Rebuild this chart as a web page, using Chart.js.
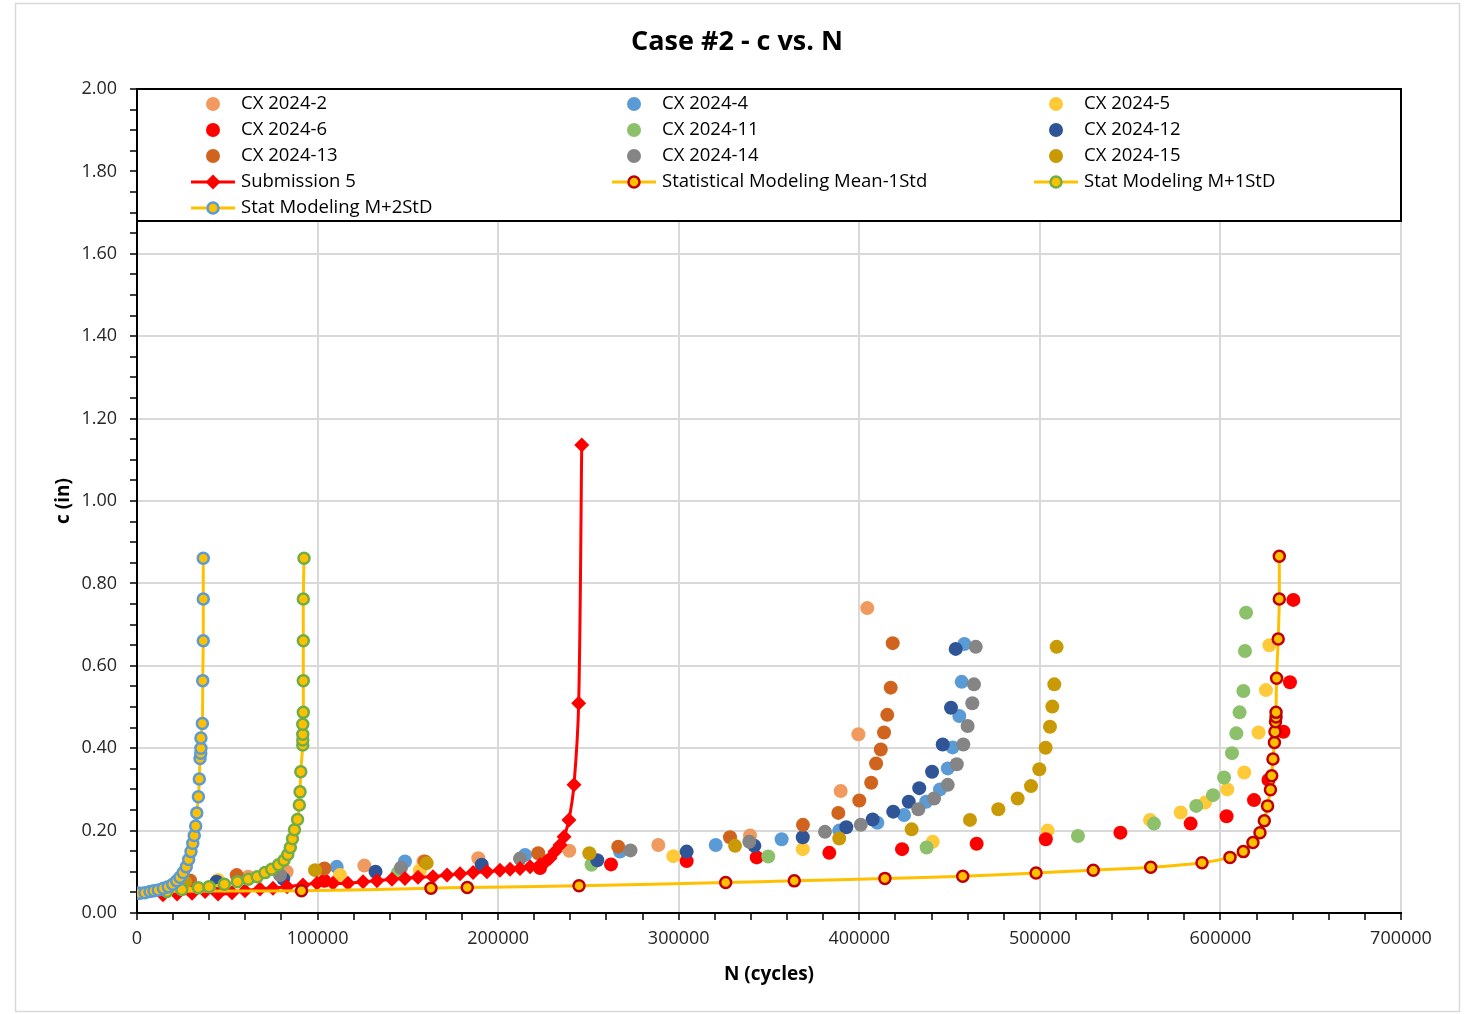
<!DOCTYPE html>
<html>
<head>
<meta charset="utf-8">
<title>Case #2 - c vs. N</title>
<script src="https://cdn.jsdelivr.net/npm/chart.js@4.4.1/dist/chart.umd.min.js"></script>
<style>
  html, body { margin: 0; padding: 0; background: #fff; }
  canvas { display: block; }
</style>
</head>
<body>
<canvas id="chart" width="1468" height="1014"></canvas>
<script>
// values: N in cycles, c in inches
const cx2N = [61600, 82900, 125900, 158600, 189000, 239400, 288700, 339500, 389700, 399500, 404400];
const cx2C = [0.088, 0.100, 0.115, 0.125, 0.133, 0.151, 0.165, 0.188, 0.296, 0.434, 0.740];

const cx4N = [110600, 148400, 214900, 267500, 320500, 357000, 388900, 410000, 424800, 437000, 444700, 449000, 451700, 455400, 456700, 458200];
const cx4C = [0.112, 0.125, 0.141, 0.149, 0.165, 0.179, 0.200, 0.219, 0.238, 0.270, 0.300, 0.351, 0.402, 0.478, 0.561, 0.653];

const cx5N = [44900, 112400, 156700, 297000, 368700, 440700, 504300, 561000, 578000, 591500, 603800, 613200, 621100, 625200, 627100];
const cx5C = [0.080, 0.092, 0.104, 0.138, 0.155, 0.173, 0.200, 0.226, 0.244, 0.268, 0.300, 0.341, 0.438, 0.541, 0.650];

const cx6N = [103800, 223200, 262500, 304400, 343200, 383400, 423700, 465000, 503300, 544600, 583500, 603400, 618600, 626600, 634900, 638500, 640400];
const cx6C = [0.078, 0.109, 0.118, 0.126, 0.135, 0.146, 0.155, 0.168, 0.179, 0.195, 0.217, 0.235, 0.274, 0.323, 0.440, 0.560, 0.760];

const cx11N = [144500, 251700, 349600, 437300, 521100, 563200, 586600, 595900, 602000, 606400, 608800, 610600, 612700, 613600, 614200];
const cx11C = [0.098, 0.117, 0.137, 0.159, 0.187, 0.217, 0.260, 0.286, 0.329, 0.388, 0.436, 0.487, 0.539, 0.636, 0.729];

const cx12N = [44100, 81000, 132100, 190900, 254900, 304400, 341900, 368700, 392800, 407400, 418800, 427400, 433200, 440300, 446200, 450800, 453400];
const cx12C = [0.076, 0.083, 0.100, 0.117, 0.128, 0.149, 0.163, 0.184, 0.208, 0.227, 0.246, 0.270, 0.303, 0.343, 0.409, 0.498, 0.641];

const cx13N = [29400, 55200, 103800, 159500, 222200, 266500, 328400, 368800, 388400, 400000, 406600, 409300, 411900, 413700, 415500, 417400, 418500];
const cx13C = [0.079, 0.092, 0.108, 0.125, 0.145, 0.161, 0.184, 0.214, 0.243, 0.273, 0.316, 0.363, 0.397, 0.438, 0.481, 0.547, 0.655];

const cx14N = [79200, 146200, 212100, 273300, 339100, 381000, 400800, 432700, 441400, 449000, 454000, 457600, 460000, 462600, 463500, 464500];
const cx14C = [0.092, 0.110, 0.132, 0.152, 0.173, 0.197, 0.214, 0.252, 0.278, 0.311, 0.361, 0.409, 0.454, 0.509, 0.555, 0.646];

const cx15N = [26600, 98600, 160400, 250500, 331200, 388900, 429000, 461300, 477000, 487700, 495100, 499700, 503200, 505600, 506900, 508000, 509300];
const cx15C = [0.075, 0.104, 0.121, 0.145, 0.163, 0.181, 0.203, 0.226, 0.252, 0.278, 0.308, 0.349, 0.401, 0.452, 0.501, 0.555, 0.646];

const sub5N = [14400, 22200, 30500, 37700, 44900, 52600, 59800, 68100, 75300, 83100, 91900, 99700, 108500, 116800, 125200, 132900, 141200, 148400, 155600, 163900, 171700, 178900, 186100, 193800, 201000, 206600, 212100, 217700, 223200, 226500, 228700, 231500, 234300, 236500, 239200, 242000, 244600, 246300];
const sub5C = [0.044, 0.046, 0.048, 0.052, 0.046, 0.049, 0.054, 0.058, 0.060, 0.064, 0.068, 0.072, 0.072, 0.072, 0.076, 0.078, 0.082, 0.084, 0.087, 0.088, 0.092, 0.095, 0.098, 0.100, 0.104, 0.106, 0.108, 0.112, 0.117, 0.125, 0.133, 0.149, 0.165, 0.185, 0.226, 0.311, 0.509, 1.136];

const meanM1N = [0, 16100, 91100, 162800, 182900, 244800, 326000, 364000, 414200, 457300, 497900, 529600, 561400, 589800, 605300, 612700, 618000, 621900, 624300, 626100, 627700, 628400, 629100, 629900, 630200, 630500, 630800, 630800, 631100, 632000, 632600, 632600];
const meanM1C = [0.048, 0.053, 0.054, 0.060, 0.062, 0.066, 0.074, 0.078, 0.084, 0.089, 0.097, 0.104, 0.111, 0.122, 0.135, 0.149, 0.171, 0.195, 0.224, 0.260, 0.299, 0.333, 0.374, 0.414, 0.440, 0.464, 0.476, 0.487, 0.570, 0.665, 0.762, 0.866];

const plus1N = [0, 16500, 24800, 34000, 39900, 48400, 55600, 61600, 66600, 70900, 74600, 78400, 81400, 83500, 84900, 86100, 87200, 88900, 89900, 90300, 90700, 91800, 91800, 91800, 91800, 92100, 92100, 92100, 92100, 92500];
const plus1C = [0.048, 0.052, 0.057, 0.061, 0.064, 0.070, 0.076, 0.082, 0.088, 0.098, 0.106, 0.117, 0.128, 0.142, 0.159, 0.180, 0.202, 0.227, 0.262, 0.294, 0.343, 0.408, 0.420, 0.434, 0.458, 0.487, 0.564, 0.661, 0.762, 0.861];

const plus2N = [0, 1700, 4400, 7200, 9400, 11800, 14600, 17300, 19800, 22000, 23800, 25600, 27300, 28600, 29900, 30900, 31700, 32500, 33100, 34000, 34500, 34900, 35300, 35400, 35400, 36200, 36400, 36700, 36700, 36700];
const plus2C = [0.048, 0.048, 0.049, 0.052, 0.054, 0.056, 0.060, 0.064, 0.070, 0.078, 0.087, 0.098, 0.112, 0.130, 0.149, 0.169, 0.188, 0.211, 0.243, 0.282, 0.325, 0.375, 0.388, 0.400, 0.425, 0.460, 0.564, 0.661, 0.762, 0.861];

const xMajor = 100000;   // labelled ticks / gridlines
const yMajor = 0.2;

const pts = (n, c) => n.map((x, i) => ({ x: x, y: c[i] }));

const dotSeries = [
  ['CX 2024-2', cx2N, cx2C, '#F19A5F'],
  ['CX 2024-4', cx4N, cx4C, '#5B9BD5'],
  ['CX 2024-5', cx5N, cx5C, '#FFCA3A'],
  ['CX 2024-6', cx6N, cx6C, '#FF0000'],
  ['CX 2024-11', cx11N, cx11C, '#8CC06A'],
  ['CX 2024-12', cx12N, cx12C, '#2F5597'],
  ['CX 2024-13', cx13N, cx13C, '#D0641E'],
  ['CX 2024-14', cx14N, cx14C, '#858585'],
  ['CX 2024-15', cx15N, cx15C, '#C99A06']
];

const DOT_R = 7;

const datasets = dotSeries.map(([label, n, c, color]) => ({
  label: label,
  data: pts(n, c),
  backgroundColor: color,
  borderColor: color,
  pointRadius: DOT_R,
  pointBorderWidth: 0,
  showLine: false
}));

datasets.push({
  label: 'Submission 5',
  data: pts(sub5N, sub5C),
  showLine: true,
  borderColor: '#FF0000',
  borderWidth: 3,
  tension: 0.3,
  pointStyle: 'rectRot',
  pointRadius: 7.5,
  pointBackgroundColor: '#FF0000',
  pointBorderColor: '#FF0000',
  pointBorderWidth: 0
});

const modelSeries = [
  ['Statistical Modeling Mean-1Std', meanM1N, meanM1C, '#C00000'],
  ['Stat Modeling M+1StD', plus1N, plus1C, '#70AD47'],
  ['Stat Modeling M+2StD', plus2N, plus2C, '#5B9BD5']
];
modelSeries.forEach(([label, n, c, edge]) => {
  datasets.push({
    label: label,
    data: pts(n, c),
    showLine: true,
    borderColor: '#FFC000',
    borderWidth: 3,
    tension: 0.3,
    pointStyle: 'circle',
    pointRadius: 5.5,
    pointBackgroundColor: '#FFC000',
    pointBorderColor: edge,
    pointBorderWidth: 2.5
  });
});

// excel draws later series on top
datasets.forEach((d, i) => { d.order = datasets.length - i; });

const FONT = "'Open Sans', 'DejaVu Sans', sans-serif";

const frame = {
  id: 'frame',
  beforeDraw(chart) {
    const ctx = chart.ctx;
    ctx.save();
    ctx.fillStyle = '#fff';
    ctx.fillRect(0, 0, chart.width, chart.height);
    ctx.strokeStyle = '#d9d9d9';
    ctx.lineWidth = 1.5;
    ctx.strokeRect(15.5, 3.5, 1444, 1008);
    ctx.restore();
  },
  afterDraw(chart) {
    const ctx = chart.ctx;
    ctx.save();
    ctx.fillStyle = '#000';
    ctx.font = 'bold 27px ' + FONT;
    ctx.textAlign = 'center';
    ctx.textBaseline = 'middle';
    ctx.fillText('Case #2 - c vs. N', 737, 42);
    ctx.restore();
  }
};

// legend box sitting inside the top of the plot area, 3 columns
const boxLegend = {
  id: 'boxLegend',
  afterDraw(chart) {
    const { ctx, chartArea } = chart;
    const left = chartArea.left, top = chartArea.top, w = chartArea.right - chartArea.left, h = 132;
    ctx.save();
    ctx.fillStyle = '#fff';
    ctx.fillRect(left, top, w, h);
    ctx.strokeStyle = '#000';
    ctx.lineWidth = 2;
    ctx.strokeRect(left, top, w, h);

    const colX = [left + 76, left + 497, left + 919];
    ctx.font = '18.5px ' + FONT;
    ctx.textBaseline = 'middle';
    ctx.textAlign = 'left';
    chart.data.datasets.forEach((ds, i) => {
      const x = colX[i % 3];
      const y = top + 15 + 26 * Math.floor(i / 3);
      if (ds.showLine) {
        ctx.strokeStyle = ds.borderColor;
        ctx.lineWidth = ds.borderWidth;
        ctx.beginPath();
        ctx.moveTo(x - 22, y);
        ctx.lineTo(x + 22, y);
        ctx.stroke();
        ctx.fillStyle = ds.pointBackgroundColor;
        ctx.strokeStyle = ds.pointBorderColor;
        ctx.lineWidth = ds.pointBorderWidth;
        Chart.helpers.drawPoint(ctx, {
          pointStyle: ds.pointStyle, radius: ds.pointRadius, rotation: 0, borderWidth: ds.pointBorderWidth
        }, x, y);
      } else {
        ctx.fillStyle = ds.backgroundColor;
        ctx.beginPath();
        ctx.arc(x, y, DOT_R, 0, Math.PI * 2);
        ctx.fill();
      }
      ctx.fillStyle = '#000';
      ctx.fillText(ds.label, x + 28, y);
    });
    ctx.restore();
  }
};

const isMajor = (v, step) => Math.abs(v / step - Math.round(v / step)) < 1e-6;

new Chart(document.getElementById('chart'), {
  type: 'scatter',
  data: { datasets: datasets },
  options: {
    responsive: false,
    animation: false,
    events: [],
    layout: { padding: { left: 52, right: 67, top: 89, bottom: 28 } },
    plugins: {
      legend: { display: false },
      title: { display: false },
      tooltip: { enabled: false }
    },
    scales: {
      x: {
        type: 'linear',
        min: 0,
        max: 700000,
        afterFit(scale) { scale.height = 73; },
        ticks: {
          stepSize: 20000,
          autoSkip: false,
          maxRotation: 0,
          padding: 8,
          color: '#262626',
          font: { size: 18, family: FONT },
          callback: v => isMajor(v, xMajor) ? String(v) : ''
        },
        grid: {
          color: c => (c.tick && isMajor(c.tick.value, xMajor)) ? '#d9d9d9' : 'rgba(0,0,0,0)',
          lineWidth: 2,
          tickColor: '#000',
          tickLength: 7,
          tickWidth: 1.5
        },
        border: { display: true, color: '#000', width: 2 },
        title: {
          display: true,
          text: 'N (cycles)',
          color: '#000',
          padding: 0,
          font: { size: 19, weight: 'bold', family: FONT }
        }
      },
      y: {
        type: 'linear',
        min: 0,
        max: 2,
        afterFit(scale) { scale.width = 85; },
        ticks: {
          stepSize: 0.05,
          autoSkip: false,
          padding: 13,
          color: '#262626',
          font: { size: 18, family: FONT },
          callback: v => isMajor(v, yMajor) ? v.toFixed(2) : ''
        },
        grid: {
          color: c => (c.tick && isMajor(c.tick.value, yMajor)) ? '#d9d9d9' : 'rgba(0,0,0,0)',
          lineWidth: 2,
          tickColor: '#000',
          tickLength: 7,
          tickWidth: 1.5
        },
        border: { display: true, color: '#000', width: 2 },
        title: {
          display: true,
          text: 'c (in)',
          color: '#000',
          padding: 0,
          font: { size: 19, weight: 'bold', family: FONT }
        }
      }
    }
  },
  plugins: [frame, boxLegend]
});
</script>
</body>
</html>
